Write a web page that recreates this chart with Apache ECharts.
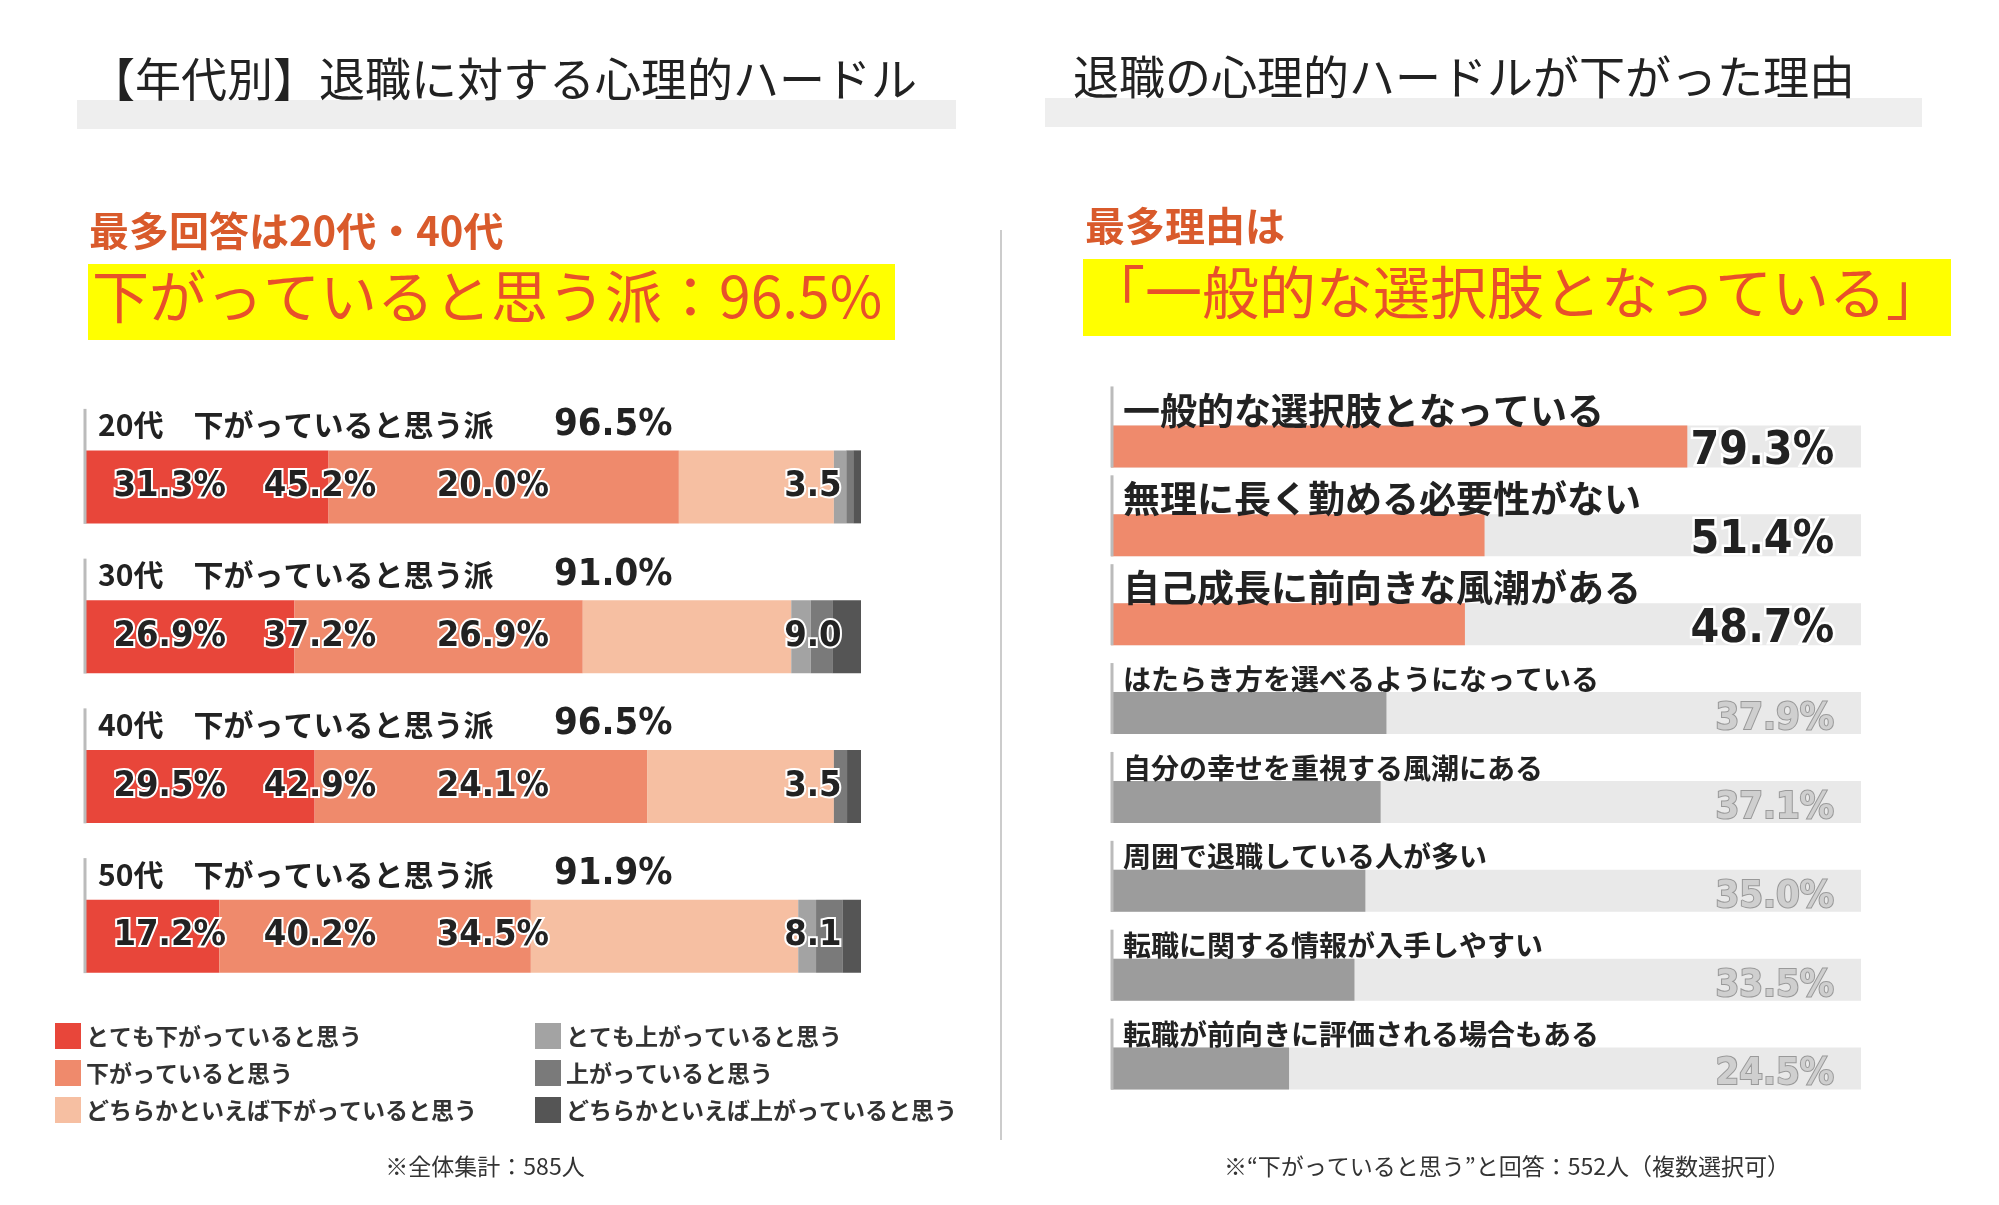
<!DOCTYPE html><html><head><meta charset="utf-8">
<script src="https://cdn.jsdelivr.net/npm/echarts@6/dist/echarts.min.js"></script>
<style>body{margin:0;background:#fff}#c{width:1999px;height:1205px}</style></head><body><div id="c"></div>
<script>
const ages=['20代','30代','40代','50代'];
const downTotals=['96.5%','91.0%','96.5%','91.9%'];
const veryDown=[31.3,26.9,29.5,17.2];
const down=[45.2,37.2,42.9,40.2];
const slightDown=[20.0,26.9,24.1,34.5];
const veryUp=[1.6,2.5,0,2.3];
const up=[0.9,2.8,1.7,3.4];
const slightUp=[1.0,3.7,1.8,2.4];
const upTotals=['3.5','9.0','3.5','8.1'];
const legendNames=['とても下がっていると思う','下がっていると思う','どちらかといえば下がっていると思う','とても上がっていると思う','上がっていると思う','どちらかといえば上がっていると思う'];
const reasons=['一般的な選択肢となっている','無理に長く勤める必要性がない','自己成長に前向きな風潮がある','はたらき方を選べるようになっている','自分の幸せを重視する風潮にある','周囲で退職している人が多い','転職に関する情報が入手しやすい','転職が前向きに評価される場合もある'];
const reasonVals=[79.3,51.4,48.7,37.9,37.1,35.0,33.5,24.5];

const F='"Noto Sans CJK JP"';
const NUM='"DejaVu Sans Condensed"';
const cols=['#e8463a','#ef8a6c','#f6bfa2','#a3a3a3','#7a7a7a','#555555'];
const leftData=[veryDown,down,slightDown,veryUp,up,slightUp];
const chart=echarts.init(document.getElementById('c'));
const series=[];
leftData.forEach((d,i)=>series.push({name:legendNames[i],type:'bar',stack:'L',xAxisIndex:0,yAxisIndex:0,barWidth:73,data:d,itemStyle:{color:cols[i]},silent:true}));
series.push({type:'bar',xAxisIndex:1,yAxisIndex:1,barWidth:42,barGap:'-100%',data:reasonVals.map(()=>103.2),itemStyle:{color:'#e9e9e9'},silent:true,z:1});
series.push({type:'bar',xAxisIndex:1,yAxisIndex:1,barWidth:42,data:reasonVals.map((v,i)=>({value:v,itemStyle:{color:i<3?'#ef8a6c':'#9c9c9c'}})),silent:true,z:2});
chart.setOption({
 animation:false,
 grid:[{left:86,top:412,width:775,height:599},{left:1111,top:402,width:750,height:711}],
 xAxis:[{gridIndex:0,type:'value',min:0,max:100,show:false},{gridIndex:1,type:'value',min:0,max:103.2,show:false}],
 yAxis:[{gridIndex:0,type:'category',data:ages,inverse:true,show:false},{gridIndex:1,type:'category',data:reasons,inverse:true,show:false}],
 legend:[
  {data:legendNames.slice(0,3),left:50,top:1018,orient:'vertical',itemGap:11,itemWidth:26,itemHeight:26,icon:'rect',textStyle:{fontFamily:F,fontSize:23,fontWeight:'bold',color:'#333'}},
  {data:legendNames.slice(3),left:530,top:1018,orient:'vertical',itemGap:11,itemWidth:26,itemHeight:26,icon:'rect',textStyle:{fontFamily:F,fontSize:23,fontWeight:'bold',color:'#333'}}
 ],
 series:series
});
const g=[];
const T=(o)=>{o.z=100;g.push(o);};
T({type:'rect',shape:{x:77,y:100,width:879,height:29},style:{fill:'#eeeeee'}});
T({type:'text',x:89,y:56,style:{text:'【年代別】退職に対する心理的ハードル',font:'46px '+F,fill:'#222'}});
T({type:'rect',shape:{x:1045,y:98,width:877,height:29},style:{fill:'#eeeeee'}});
T({type:'text',x:1073,y:54,style:{text:'退職の心理的ハードルが下がった理由',font:'46px '+F,fill:'#222'}});
T({type:'line',shape:{x1:1001,y1:230,x2:1001,y2:1140},style:{stroke:'#cccccc',lineWidth:2}});
T({type:'text',x:89,y:211,style:{text:'最多回答は20代・40代',font:'bold 40px '+F,fill:'#d95a2b'}});
T({type:'rect',shape:{x:88,y:264,width:807,height:76},style:{fill:'#ffff00'}});
T({type:'text',x:92,y:268,style:{text:'下がっていると思う派：96.5%',font:'57px '+F,fill:'#e8502a'}});
T({type:'text',x:1085,y:206,style:{text:'最多理由は',font:'bold 40px '+F,fill:'#d95a2b'}});
T({type:'rect',shape:{x:1083,y:259,width:868,height:77},style:{fill:'#ffff00'}});
T({type:'text',x:1088,y:264,style:{text:'「一般的な選択肢となっている」',font:'57px '+F,fill:'#e8502a'}});
T({type:'text',x:485,y:1166,style:{text:'※全体集計：585人',font:'23px '+F,fill:'#333',align:'center',verticalAlign:'middle'}});
T({type:'text',x:1507,y:1166,style:{text:'※“下がっていると思う”と回答：552人（複数選択可）',font:'23px '+F,fill:'#333',align:'center',verticalAlign:'middle'}});
ages.forEach((a,i)=>{
 const p0=chart.convertToPixel({xAxisIndex:0,yAxisIndex:0},[0,a]);
 T({type:'line',shape:{x1:p0[0]-1,y1:p0[1]-78,x2:p0[0]-1,y2:p0[1]+37},style:{stroke:'#bbb',lineWidth:3}});
 T({type:'text',x:p0[0]+12,y:p0[1]-62,style:{text:a+'　下がっていると思う派',font:'bold 30px '+F,fill:'#222',verticalAlign:'middle'}});
 T({type:'text',x:p0[0]+468,y:p0[1]-62,style:{text:downTotals[i],font:'bold 38px '+NUM,fill:'#222',verticalAlign:'middle'}});
 [[veryDown,10.8],[down,30.2],[slightDown,52.5]].forEach(([arr,pos])=>{
  const p=chart.convertToPixel({xAxisIndex:0,yAxisIndex:0},[pos,a]);
  T({type:'text',x:p[0],y:p[1],style:{text:arr[i].toFixed(1)+'%',font:'bold 36px '+NUM,fill:'#222',stroke:'#fff',lineWidth:4,align:'center',verticalAlign:'middle'}});
 });
 const p=chart.convertToPixel({xAxisIndex:0,yAxisIndex:0},[93.8,a]);
 T({type:'text',x:p[0],y:p[1],style:{text:upTotals[i],font:'bold 36px '+NUM,fill:'#222',stroke:'#fff',lineWidth:4,align:'center',verticalAlign:'middle'}});
});
reasons.forEach((r,i)=>{
 const p0=chart.convertToPixel({xAxisIndex:1,yAxisIndex:1},[0,r]);
 const big=i<3;
 T({type:'line',shape:{x1:p0[0]+1,y1:p0[1]-(big?60:50),x2:p0[0]+1,y2:p0[1]+21},style:{stroke:'#bbb',lineWidth:3}});
 T({type:'text',x:p0[0]+12,y:p0[1]-(big?36:34),style:{text:r,font:'bold '+(big?37:28)+'px '+F,fill:'#222',verticalAlign:'middle'}});
 const p=chart.convertToPixel({xAxisIndex:1,yAxisIndex:1},[99.5,r]);
 T({type:'text',x:p[0],y:p[1]+6,style:{text:reasonVals[i].toFixed(1)+'%',font:'bold '+(big?46:38)+'px '+NUM,fill:big?'#222':'#cfcfcf',stroke:big?'#fff':'#999',lineWidth:big?5:2,align:'right',verticalAlign:'middle'}});
});
chart.setOption({graphic:g});
</script></body></html>
